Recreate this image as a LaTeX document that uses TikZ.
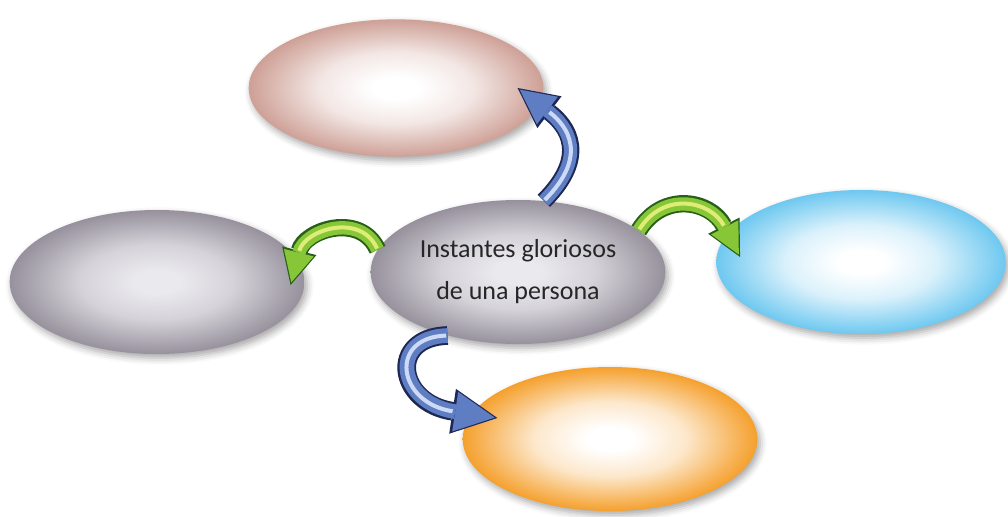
\documentclass[tikz,border=0pt]{standalone}
\usepackage{fontspec}
\setmainfont{Carlito}
\usetikzlibrary{arrows.meta,shapes.geometric,shadows.blur}

\definecolor{rosa}{RGB}{206,160,150}
\definecolor{gris}{RGB}{150,145,156}
\definecolor{grisin}{RGB}{234,233,238}
\definecolor{celeste}{RGB}{110,200,240}
\definecolor{naranja}{RGB}{245,160,45}
\definecolor{verdeA}{RGB}{40,95,25}
\definecolor{verdeB}{RGB}{135,198,55}
\definecolor{verdeC}{RGB}{222,236,120}
\definecolor{azulA}{RGB}{30,40,85}
\definecolor{azulB}{RGB}{95,125,195}
\definecolor{azulC}{RGB}{205,218,246}
\colorlet{glowin}{white}
\colorlet{glowout}{gris}
\pgfdeclareradialshading[glowin,glowout]{brillo}{\pgfpoint{0bp}{0bp}}{%
	color(0bp)=(glowin); color(4bp)=(glowin); color(13bp)=(glowin!75!glowout);
	color(25bp)=(glowout); color(50bp)=(glowout)}

\begin{document}
\begin{tikzpicture}[x=0.75pt, y=-0.75pt,
	every node/.style = {align=center},
	Globo/.style args = {#1/#2}{ellipse, inner sep=0pt, minimum width=221pt, minimum height=108pt,
		/utils/exec={\colorlet{glowin}{#1}\colorlet{glowout}{#2}}, shading=brillo,
		blur shadow={shadow xshift=2pt, shadow yshift=-3pt, shadow blur radius=5pt, shadow opacity=35}},
	Flecha/.style args = {#1/#2/#3/#4/#5}{draw=#1B, line width=#2, shorten >=2pt,
		-{Triangle[length=#4, width=#4, line width=0pt]},
		preaction={draw=#1A, line width=#3, shorten >=0pt,
			-{Triangle[length=#5, width=#5, line width=0pt]}},
		postaction={draw=#1C, line width=3pt, -, shorten >=#5, shorten <=1pt}}
]
\useasboundingbox (0,0) rectangle (1008,517);

\node[Globo=white/rosa, minimum height=103pt] (arriba) at (396,88) {};
\node[Globo=grisin/gris] (izq) at (157,282) {};
\node[Globo=grisin/gris, text=black!85, font=\fontsize{19.5}{31.5}\selectfont]
	(idea) at (518,272) {Instantes gloriosos\\de una persona};
\node[Globo=white/celeste, minimum width=217pt] (der) at (861,262) {};
\node[Globo=white/naranja] (abajo) at (610,439) {};

\draw[Flecha=verde/10pt/13pt/23pt/26.5pt] (idea.171)
	.. controls +(-17,-38) and +(14,-55) .. ([shift={(-14,3)}]izq.east);
\draw[Flecha=verde/10pt/13pt/23pt/26.5pt] (idea.19)
	.. controls +(25,-40) and +(-29,-56) .. ([shift={(24,-5)}]der.west);
\draw[Flecha=azul/10pt/13pt/26pt/30pt] (idea.70)
	.. controls +(45,-45) and +(50,38) .. ([shift={(-26,0)}]arriba.east);
\draw[Flecha=azul/11pt/14pt/30pt/34pt] (idea.222)
	.. controls +(-60,2) and +(-100,-15) .. ([shift={(35,-21)}]abajo.west);
\end{tikzpicture}
\end{document}
